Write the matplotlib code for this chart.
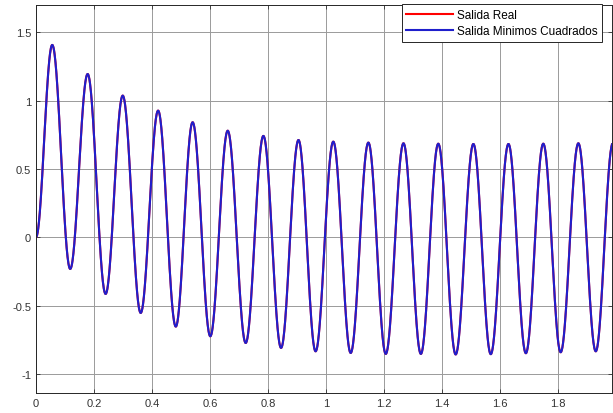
import numpy as np
import matplotlib.pyplot as plt

plt.rcParams['font.family'] = ['Liberation Sans', 'DejaVu Sans']

# extrema (time, value), starting at the origin
t_ext = [0.0, 0.056, 0.118, 0.178, 0.240, 0.299, 0.361, 0.421, 0.482, 0.540,
         0.601, 0.661, 0.723, 0.784, 0.845, 0.905, 0.964, 1.025, 1.085, 1.146,
         1.206, 1.267, 1.327, 1.387, 1.447, 1.508, 1.568, 1.629, 1.689, 1.749,
         1.809, 1.870, 1.930, 1.989]
y_ext = [0.0, 1.408, -0.232, 1.195, -0.415, 1.037, -0.554, 0.927, -0.654, 0.842,
         -0.725, 0.780, -0.774, 0.742, -0.810, 0.712, -0.835, 0.700, -0.847, 0.693,
         -0.854, 0.688, -0.854, 0.685, -0.858, 0.683, -0.856, 0.683, -0.849, 0.685,
         -0.842, 0.688, -0.835, 0.690]

labels = ["Salida Real", "Salida Minimos Cuadrados"]


def build_curve(tk, yk, n=60):
    # smooth half-cosine segments between successive extrema
    ts, ys = [], []
    for i in range(len(tk) - 1):
        s = np.linspace(0, 1, n, endpoint=False)
        w = (1 - np.cos(np.pi * s)) / 2
        ts.append(tk[i] + (tk[i + 1] - tk[i]) * s)
        ys.append(yk[i] + (yk[i + 1] - yk[i]) * w)
    ts.append([tk[-1]])
    ys.append([yk[-1]])
    return np.concatenate(ts), np.concatenate(ys)


t, y = build_curve(t_ext, y_ext)

fig = plt.figure(figsize=(6.13, 4.14), dpi=100)
ax = fig.add_axes([36 / 613, 1 - 394 / 414, 576 / 613, 388 / 414])

ax.plot(t, y, color=(1, 0, 0), lw=1.0, label=labels[0])
ax.plot(t, y, color=(0.12, 0.12, 0.8), lw=1.5, label=labels[1])

ax.set_xlim(0, 1.986)
ax.set_ylim(-1.14, 1.70)
ax.set_xticks(np.arange(0, 1.81, 0.2))
ax.set_xticklabels(["0", "0.2", "0.4", "0.6", "0.8", "1", "1.2", "1.4", "1.6", "1.8"])
ax.set_yticks([-1, -0.5, 0, 0.5, 1, 1.5])
ax.set_yticklabels(["-1", "-0.5", "0", "0.5", "1", "1.5"])
ax.tick_params(direction="in", length=3, labelsize=8, colors="#333333",
               top=True, right=True, width=0.6)
ax.grid(True, color="#9a9a9a", lw=0.7)
ax.set_axisbelow(True)
for sp in ax.spines.values():
    sp.set_color("#262626")
    sp.set_linewidth(0.7)

h = ax.get_legend_handles_labels()[0]
h[0].set_linewidth(1.5)
leg = ax.legend(loc="upper right", bbox_to_anchor=(602 / 613, 1 - 5 / 414),
                bbox_transform=fig.transFigure, fontsize=8.5, fancybox=False,
                framealpha=1, edgecolor="#262626", borderpad=0.4,
                handlelength=3.9, handletextpad=0.35, labelspacing=0.4,
                borderaxespad=0)
leg.get_frame().set_linewidth(0.7)

fig.savefig("out.png", dpi=100)
